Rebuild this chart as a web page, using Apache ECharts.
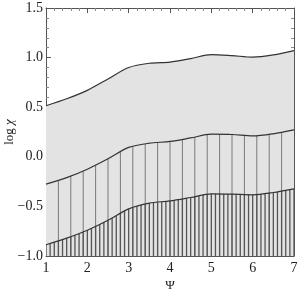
<!DOCTYPE html>
<html><head><meta charset="utf-8">
<script src="https://cdn.jsdelivr.net/npm/echarts@6/dist/echarts.min.js"></script>
<style>html,body{margin:0;padding:0;background:#fff}#c{width:298px;height:291px}</style>
</head><body><div id="c"></div>
<script>
const psi = [1, 1.5, 2, 2.5, 3, 3.5, 4, 4.5, 5, 5.5, 6, 6.5, 7];
const upper = [0.515, 0.585, 0.67, 0.785, 0.90, 0.943, 0.955, 0.99, 1.03, 1.02, 1.005, 1.027, 1.07];
const middle = [-0.275, -0.21, -0.125, -0.02, 0.095, 0.137, 0.155, 0.19, 0.228, 0.225, 0.21, 0.232, 0.271];
const lower = [-0.887, -0.82, -0.74, -0.64, -0.525, -0.467, -0.445, -0.41, -0.373, -0.376, -0.383, -0.36, -0.323];
const xTicks = [1, 2, 3, 4, 5, 6, 7];
const yTicks = [-1.0, -0.5, 0.0, 0.5, 1.0, 1.5];

const FONT = '"Liberation Serif", "Times New Roman", Times, serif';
const axisCol = '#555';
const pairs = a => psi.map((x, i) => [x, a[i]]);

const chart = echarts.init(document.getElementById('c'), null, {renderer: 'canvas'});

function xAxisDef(pos, labels) {
  return {
    type: 'value', position: pos, min: xTicks[0], max: xTicks[xTicks.length - 1], interval: 1,
    name: labels ? 'Ψ' : '', nameLocation: 'middle', nameGap: 23, nameMoveOverlap: false,
    nameTextStyle: {fontFamily: FONT, fontSize: 13, color: '#222'},
    axisLine: {show: true, onZero: false, lineStyle: {color: axisCol, width: 1}},
    axisTick: {show: true, inside: true, length: 5, lineStyle: {color: axisCol}},
    minorTick: {show: true, splitNumber: 5, length: 3, lineStyle: {color: '#888'}},
    axisLabel: {show: labels, fontFamily: FONT, fontSize: 14, color: '#222', margin: 5},
    splitLine: {show: false}
  };
}
function yAxisDef(pos, labels) {
  return {
    type: 'value', position: pos, min: yTicks[0], max: yTicks[yTicks.length - 1], interval: 0.5,
    name: labels ? '{a|log }{b|χ}' : '', nameLocation: 'middle', nameGap: 30, nameMoveOverlap: false,
    nameTextStyle: {rich: {a: {fontFamily: FONT, fontSize: 13, color: '#222'}, b: {fontFamily: FONT, fontSize: 13, fontStyle: 'italic', color: '#222'}}},
    axisLine: {show: true, onZero: false, lineStyle: {color: axisCol, width: 1}},
    axisTick: {show: true, inside: true, length: 5, lineStyle: {color: axisCol}},
    minorTick: {show: true, splitNumber: 5, length: 3, lineStyle: {color: '#888'}},
    axisLabel: {show: labels, fontFamily: FONT, fontSize: 14, color: '#222', margin: 3,
      formatter: v => v.toFixed(1).replace('-', '\u2212')},
    splitLine: {show: false}
  };
}

function seriesDefs(sparseFill, denseFill) {
  const base = {type: 'line', smooth: 0.3, showSymbol: false, symbol: 'none',
    lineStyle: {color: '#333', width: 1.2}, xAxisIndex: 0, yAxisIndex: 0};
  return [
    Object.assign({}, base, {name: 'upper', data: pairs(upper), z: 2,
      areaStyle: {origin: 'start', color: '#e3e3e3', opacity: 1}}),
    Object.assign({}, base, {name: 'middle', data: pairs(middle), z: 3,
      areaStyle: {origin: 'start', color: sparseFill, opacity: 1}}),
    Object.assign({}, base, {name: 'lower', data: pairs(lower), z: 4,
      areaStyle: {origin: 'start', color: denseFill, opacity: 1}})
  ];
}

const baseOption = {
  animation: false,
  backgroundColor: '#fff',
  grid: {left: 46, right: 4, top: 8, bottom: 35, containLabel: false, outerBoundsMode: 'none'},
  xAxis: [xAxisDef('bottom', true), xAxisDef('top', false)],
  yAxis: [yAxisDef('left', true), yAxisDef('right', false)],
  series: seriesDefs('rgba(0,0,0,0)', 'rgba(0,0,0,0)')
};
chart.setOption(baseOption);

function makePattern(start, step, end, color, w) {
  const c = document.createElement('canvas');
  c.width = 298; c.height = 4;
  const ctx = c.getContext('2d');
  ctx.fillStyle = color;
  for (let x = start; x <= end + 1e-9; x += step) {
    const px = chart.convertToPixel({xAxisIndex: 0}, x);
    ctx.fillRect(px - w / 2, 0, w, 4);
  }
  return {image: c, repeat: 'repeat'};
}
const sparse = makePattern(1.3, 0.3, 6.71, '#7a7a7a', 1);
const dense = makePattern(1.0, 0.1, 7.0, '#555', 1.3);
chart.setOption({series: seriesDefs(sparse, dense)});
</script></body></html>
